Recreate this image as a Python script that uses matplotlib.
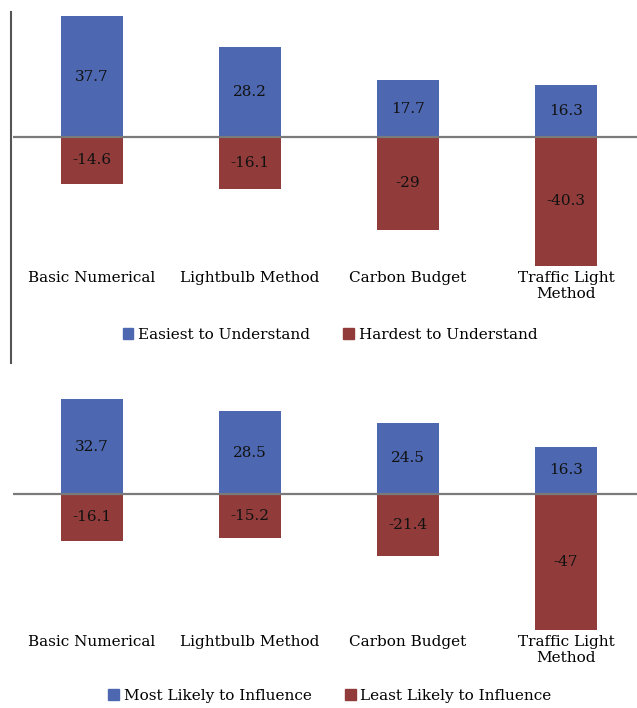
import numpy as np
import matplotlib
matplotlib.use('Agg')
from matplotlib import pyplot as plt
from matplotlib.patches import Patch
from matplotlib.lines import Line2D

categories = ['Basic Numerical', 'Lightbulb Method', 'Carbon Budget', 'Traffic Light\nMethod']
easiest = [37.7, 28.2, 17.7, 16.3]
hardest = [-14.6, -16.1, -29, -40.3]
most_likely = [32.7, 28.5, 24.5, 16.3]
least_likely = [-16.1, -15.2, -21.4, -47]
labels_top = ['Easiest to Understand', 'Hardest to Understand']
labels_bot = ['Most Likely to Influence', 'Least Likely to Influence']

blue = '#4D68B0'
red = '#913C3B'
plt.rcParams['font.family'] = ['DejaVu Serif']
fs = 11

W, H = 637, 708
fig = plt.figure(figsize=(W / 100, H / 100), dpi=100)

def px_axes(left, top, right, bottom):
    return fig.add_axes([left / W, 1 - bottom / H, (right - left) / W, (bottom - top) / H])

def draw_panel(ax, pos, neg, ylim):
    x = np.arange(len(categories))
    ax.bar(x, pos, width=0.39, color=blue, zorder=2)
    ax.bar(x, neg, width=0.39, color=red, zorder=2)
    for xi, v in zip(x, pos):
        ax.text(xi, v / 2, f'{v:g}', ha='center', va='center', fontsize=fs, color='#111111', zorder=3)
    for xi, v in zip(x, neg):
        ax.text(xi, v / 2, f'{v:g}', ha='center', va='center', fontsize=fs, color='#111111', zorder=3)
    ax.axhline(0, color='#7a7a7a', lw=1.6, zorder=3)
    ax.set_xlim(-0.5, 3.45)
    ax.set_ylim(*ylim)
    ax.set_xticks(x)
    ax.set_xticklabels(categories, fontsize=fs)
    ax.tick_params(axis='x', length=0, pad=2)
    ax.set_yticks([])
    for s in ax.spines.values():
        s.set_visible(False)

s1 = 3.2
ax1 = px_axes(13, 12, 637, 268)
draw_panel(ax1, easiest, hardest, (-(268 - 137) / s1, (137 - 12) / s1))

s2 = 2.9
ax2 = px_axes(13, 375, 637, 632)
draw_panel(ax2, most_likely, least_likely, (-(632 - 494) / s2, (494 - 375) / s2))

# left rule of the top panel
fig.add_artist(Line2D([11 / W, 11 / W], [1 - 12 / H, 1 - 363 / H], color='#555555', lw=1.5))

def legend(labels, y, xc):
    handles = [Patch(color=blue), Patch(color=red)]
    fig.legend(handles, labels, loc='center', bbox_to_anchor=(xc / W, 1 - y / H), ncol=2,
               frameon=False, fontsize=fs, handlelength=0.7, handleheight=0.7,
               handletextpad=0.3, columnspacing=2.2)

legend(labels_top, 335, 330)
legend(labels_bot, 696, 330)

fig.savefig('out.png', dpi=100)
